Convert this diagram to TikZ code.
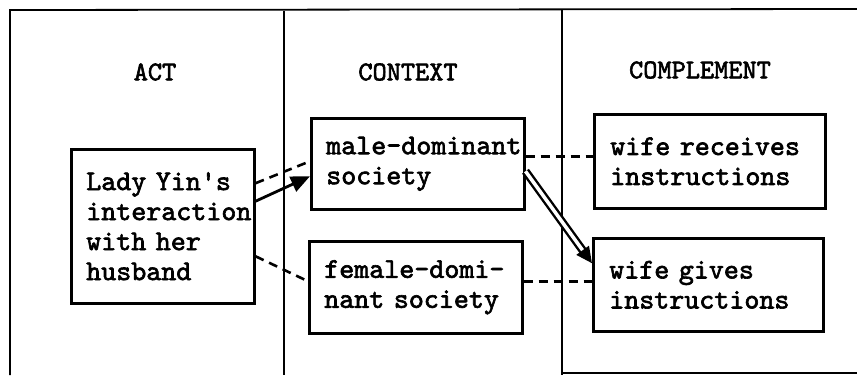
\documentclass[tikz,border=0pt]{standalone}
\usepackage{fontspec}
\usetikzlibrary{arrows.meta,calc}
\newfontfamily\typew[AutoFakeBold=2.2]{lmmono10-regular.otf}
\hyphenpenalty=10000
\exhyphenpenalty=10000
\tikzset{
  frameline/.style={line width=1.8pt},
  heading/.style={font=\typew\bfseries\fontsize{27}{30}\selectfont, inner sep=0pt},
  itembox/.style={draw, line width=2.5pt, anchor=north west, inner xsep=15pt, inner ysep=0pt,
    align=left, font=\typew\bfseries\fontsize{28.6}{30}\selectfont},
  dashlink/.style={line width=2.6pt, dash pattern=on 9pt off 6pt},
  solidarrow/.style={line width=2.8pt, -{Triangle[length=19pt,width=16pt]}},
  doublearrow/.style={line width=2.4pt, double, double distance=3.5pt, -{Triangle[length=16pt,width=15pt]}}
}
\begin{document}
\begin{tikzpicture}[x=1pt,y=-1pt]
  \useasboundingbox (0,0) rectangle (857,375);

  % frame and column dividers
  \coordinate (tl) at (10,10);
  \coordinate (tr) at (857,9);
  \coordinate (bl) at (10,375);
  \coordinate (c1t) at (284,11);
  \coordinate (c1b) at (284,375);
  \coordinate (c2t) at (562,10);
  \coordinate (c2b) at (562,375);
  \coordinate (br1) at (562,373);
  \coordinate (br2) at (857,373);
  \draw[frameline] (bl) -- (tl) -- (tr);
  \draw[frameline] (c1t) -- (c1b);
  \draw[frameline] (c2t) -- (c2b);
  \draw[frameline] (br1) -- (br2);

  % column headings
  \node[heading] (hact) at (155,72) {ACT};
  \node[heading] (hctx) at (408,72) {CONTEXT};
  \node[heading] (hcmp) at (700,70) {COMPLEMENT};

  % boxes
  \node[itembox, text width=153pt, minimum height=154pt] (act) at (70,148)
    {Lady Yin's\\interaction\\with her\\husband};
  \node[itembox, text width=183pt, minimum height=91pt] (male) at (310,117)
    {male-dominant\\society};
  \node[itembox, text width=183pt, minimum height=92pt] (female) at (308,240)
    {female-domi-\\nant society};
  \node[itembox, text width=199pt, minimum height=94pt, inner xsep=16pt] (recv) at (593,113)
    {wife receives\\instructions};
  \node[itembox, text width=198pt, minimum height=93pt, inner xsep=16pt] (gives) at (592,237)
    {wife gives\\instructions};

  % connectors
  \draw[dashlink] ([yshift=43pt]act.east) -- ([yshift=2.5pt]male.west);
  \draw[solidarrow] ([yshift=25pt]act.east) -- ([yshift=-12.5pt]male.west);
  \draw[dashlink] ([yshift=-30pt]act.east) -- ([yshift=6pt]female.west);
  \draw[dashlink] ([yshift=7.5pt]male.east) -- ([yshift=5pt]recv.west);
  \draw[dashlink] ([yshift=6pt]female.east) -- ([yshift=3.5pt]gives.west);
  \draw[doublearrow] ([yshift=-7.5pt]male.east) -- ([yshift=21.5pt]gives.west);
\end{tikzpicture}
\end{document}
